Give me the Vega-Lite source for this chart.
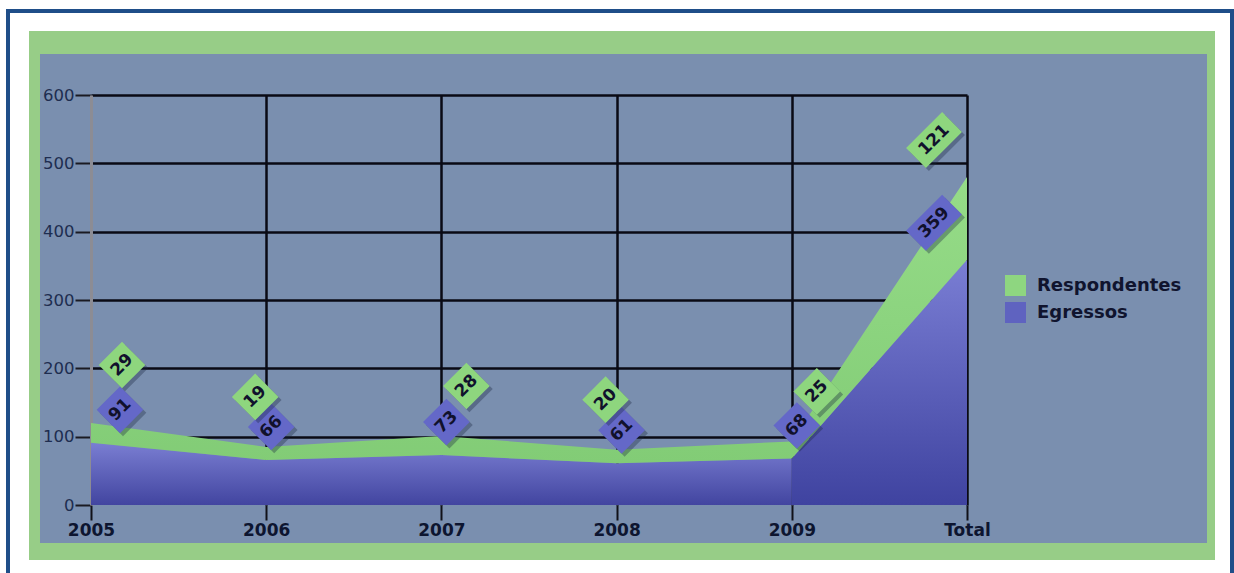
{
  "$schema": "https://vega.github.io/schema/vega-lite/v6.json",
  "width": 876,
  "height": 410,
  "autosize": {"type": "none"},
  "padding": {"left": 91, "top": 95, "right": 267, "bottom": 68},
  "background": "#7a8faf",
  "config": {"view": {"stroke": null}, "font": "DejaVu Sans"},
  "data": {
    "values": [
      {"i": 0, "ano": "2005", "serie": "Egressos", "valor": 91},
      {"i": 0, "ano": "2005", "serie": "Respondentes", "valor": 29},
      {"i": 1, "ano": "2006", "serie": "Egressos", "valor": 66},
      {"i": 1, "ano": "2006", "serie": "Respondentes", "valor": 19},
      {"i": 2, "ano": "2007", "serie": "Egressos", "valor": 73},
      {"i": 2, "ano": "2007", "serie": "Respondentes", "valor": 28},
      {"i": 3, "ano": "2008", "serie": "Egressos", "valor": 61},
      {"i": 3, "ano": "2008", "serie": "Respondentes", "valor": 20},
      {"i": 4, "ano": "2009", "serie": "Egressos", "valor": 68},
      {"i": 4, "ano": "2009", "serie": "Respondentes", "valor": 25},
      {"i": 5, "ano": "Total", "serie": "Egressos", "valor": 359},
      {"i": 5, "ano": "Total", "serie": "Respondentes", "valor": 121}
    ]
  },
  "transform": [
    {"stack": "valor", "groupby": ["i"], "sort": [{"field": "serie", "order": "ascending"}], "as": ["v0", "v1"]}
  ],
  "encoding": {
    "x": {
      "field": "i",
      "type": "quantitative",
      "title": null,
      "scale": {"domain": [0, 5], "nice": false, "zero": false},
      "axis": {
        "values": [0, 1, 2, 3, 4, 5],
        "labelExpr": "['2005','2006','2007','2008','2009','Total'][datum.value]",
        "labelFont": "DejaVu Sans",
        "labelFontWeight": "bold",
        "labelFontSize": 17,
        "labelColor": "#0d1530",
        "labelPadding": 2,
        "labelFlush": false,
        "labelOverlap": false,
        "tickColor": "#111118",
        "tickSize": 15,
        "tickWidth": 2,
        "domain": false,
        "grid": true,
        "gridColor": {"condition": {"test": "datum.value == 0", "value": "#8c8c94"}, "value": "#0a0a14"},
        "gridWidth": 2.5
      }
    }
  },
  "layer": [
    {
      "transform": [{"filter": "datum.serie == 'Egressos' && datum.i <= 4"}],
      "mark": {"type": "area", "color": {"gradient": "linear", "x1": 0, "y1": 0, "x2": 0, "y2": 1, "stops": [{"offset": 0, "color": "#7a7ed2"}, {"offset": 1, "color": "#4245a0"}]}},
      "encoding": {
        "y": {
          "field": "v1",
          "type": "quantitative",
          "title": null,
          "scale": {"domain": [0, 600], "nice": false},
          "axis": {
            "values": [0, 100, 200, 300, 400, 500, 600],
            "labelFont": "DejaVu Sans",
            "labelFontSize": 16.5,
            "labelColor": "#1e2d50",
            "labelPadding": 1,
            "tickColor": "#1a1a22",
            "tickSize": 16,
            "tickWidth": 2,
            "domain": true,
            "domainColor": "#8c8c94",
            "domainWidth": 3,
            "grid": true,
            "gridColor": {"condition": {"test": "datum.value == 0", "value": "transparent"}, "value": "#0a0a14"},
            "gridWidth": 2.5
          }
        },
        "y2": {"field": "v0"}
      }
    },
    {
      "transform": [{"filter": "datum.serie == 'Egressos' && datum.i >= 4"}],
      "mark": {"type": "area", "color": {"gradient": "linear", "x1": 0, "y1": 0, "x2": 0, "y2": 1, "stops": [{"offset": 0, "color": "#7a7ed4"}, {"offset": 1, "color": "#3f43a0"}]}},
      "encoding": {
        "y": {"field": "v1", "type": "quantitative", "title": null},
        "y2": {"field": "v0"}
      }
    },
    {
      "transform": [{"filter": "datum.serie == 'Respondentes'"}],
      "mark": {"type": "area", "color": {"gradient": "linear", "x1": 0, "y1": 0, "x2": 0, "y2": 1, "stops": [{"offset": 0, "color": "#96dc88"}, {"offset": 1, "color": "#82cc76"}]}},
      "encoding": {
        "y": {"field": "v1", "type": "quantitative", "title": null},
        "y2": {"field": "v0"}
      }
    },
    {
      "mark": {"type": "point", "shape": "square", "filled": true, "opacity": 0},
      "encoding": {
        "y": {"field": "v1", "type": "quantitative", "title": null},
        "color": {
          "field": "serie",
          "type": "nominal",
          "scale": {"domain": ["Respondentes", "Egressos"], "range": ["#8ed680", "#5f63c0"]},
          "legend": {
            "title": null,
            "orient": "none",
            "legendX": 914,
            "legendY": 180,
            "symbolType": "square",
            "symbolSize": 441,
            "symbolOpacity": 1,
            "symbolStrokeWidth": 0,
            "labelFont": "DejaVu Sans",
            "labelFontSize": 18,
            "labelFontWeight": "bold",
            "labelColor": "#10142e",
            "labelOffset": 11,
            "rowPadding": 6,
            "padding": 0,
            "labelLimit": 300
          }
        }
      }
    },
    {"transform": [{"filter": "datum.serie == 'Egressos' && datum.i == 0"}], "mark": {"type": "point", "filled": true, "angle": 315, "color": "#1a2440", "opacity": 0.35, "strokeWidth": 0, "xOffset": 32, "yOffset": -30}, "encoding": {"y": {"field": "v1", "type": "quantitative", "title": null}, "shape": {"value": "square"}, "size": {"value": 1089}}},
    {"transform": [{"filter": "datum.serie == 'Egressos' && datum.i == 0"}], "mark": {"type": "point", "filled": true, "angle": 315, "color": "#6468c8", "opacity": 1, "strokeWidth": 0, "xOffset": 29, "yOffset": -33}, "encoding": {"y": {"field": "v1", "type": "quantitative", "title": null}, "shape": {"value": "square"}, "size": {"value": 1089}}},
    {"transform": [{"filter": "datum.serie == 'Egressos' && datum.i == 0"}], "mark": {"type": "text", "angle": 315, "fontSize": 17, "fontWeight": "bold", "font": "DejaVu Sans", "color": "#11112c", "align": "center", "baseline": "middle", "xOffset": 29, "yOffset": -33}, "encoding": {"y": {"field": "v1", "type": "quantitative", "title": null}, "text": {"field": "valor", "type": "quantitative"}}},

    {"transform": [{"filter": "datum.serie == 'Egressos' && datum.i >= 1 && datum.i <= 4"}], "mark": {"type": "point", "filled": true, "angle": 315, "color": "#1a2440", "opacity": 0.35, "strokeWidth": 0, "xOffset": 8, "yOffset": -30}, "encoding": {"y": {"field": "v1", "type": "quantitative", "title": null}, "shape": {"value": "square"}, "size": {"value": 1089}}},
    {"transform": [{"filter": "datum.serie == 'Egressos' && datum.i >= 1 && datum.i <= 4"}], "mark": {"type": "point", "filled": true, "angle": 315, "color": "#6468c8", "opacity": 1, "strokeWidth": 0, "xOffset": 5, "yOffset": -33}, "encoding": {"y": {"field": "v1", "type": "quantitative", "title": null}, "shape": {"value": "square"}, "size": {"value": 1089}}},
    {"transform": [{"filter": "datum.serie == 'Egressos' && datum.i >= 1 && datum.i <= 4"}], "mark": {"type": "text", "angle": 315, "fontSize": 17, "fontWeight": "bold", "font": "DejaVu Sans", "color": "#11112c", "align": "center", "baseline": "middle", "xOffset": 5, "yOffset": -33}, "encoding": {"y": {"field": "v1", "type": "quantitative", "title": null}, "text": {"field": "valor", "type": "quantitative"}}},

    {"transform": [{"filter": "datum.i == 5"}], "mark": {"type": "point", "filled": true, "angle": 315, "color": "#1a2440", "opacity": 0.35, "strokeWidth": 0, "xOffset": -30, "yOffset": -34}, "encoding": {"y": {"field": "v1", "type": "quantitative", "title": null}, "shape": {"value": "M-1,-0.55L1,-0.55L1,0.55L-1,0.55Z"}, "size": {"value": 2601}}},
    {"transform": [{"filter": "datum.i == 5"}], "mark": {"type": "point", "filled": true, "angle": 315, "opacity": 1, "strokeWidth": 0, "xOffset": -33, "yOffset": -37}, "encoding": {"y": {"field": "v1", "type": "quantitative", "title": null}, "shape": {"value": "M-1,-0.55L1,-0.55L1,0.55L-1,0.55Z"}, "size": {"value": 2601}, "fill": {"condition": {"test": "datum.serie == 'Egressos'", "value": "#6468c8"}, "value": "#8ed67e"}}},
    {"transform": [{"filter": "datum.i == 5"}], "mark": {"type": "text", "angle": 315, "fontSize": 17, "fontWeight": "bold", "font": "DejaVu Sans", "color": "#11112c", "align": "center", "baseline": "middle", "xOffset": -33, "yOffset": -37}, "encoding": {"y": {"field": "v1", "type": "quantitative", "title": null}, "text": {"field": "valor", "type": "quantitative"}}},

    {"transform": [{"filter": "datum.serie == 'Respondentes' && datum.i == 0"}], "mark": {"type": "point", "filled": true, "angle": 315, "color": "#1a2440", "opacity": 0.35, "strokeWidth": 0, "xOffset": 34, "yOffset": -55}, "encoding": {"y": {"field": "v1", "type": "quantitative", "title": null}, "shape": {"value": "square"}, "size": {"value": 1089}}},
    {"transform": [{"filter": "datum.serie == 'Respondentes' && datum.i == 0"}], "mark": {"type": "point", "filled": true, "angle": 315, "color": "#8ed67e", "opacity": 1, "strokeWidth": 0, "xOffset": 31, "yOffset": -58}, "encoding": {"y": {"field": "v1", "type": "quantitative", "title": null}, "shape": {"value": "square"}, "size": {"value": 1089}}},
    {"transform": [{"filter": "datum.serie == 'Respondentes' && datum.i == 0"}], "mark": {"type": "text", "angle": 315, "fontSize": 17, "fontWeight": "bold", "font": "DejaVu Sans", "color": "#11112c", "align": "center", "baseline": "middle", "xOffset": 31, "yOffset": -58}, "encoding": {"y": {"field": "v1", "type": "quantitative", "title": null}, "text": {"field": "valor", "type": "quantitative"}}},

    {"transform": [{"filter": "datum.serie == 'Respondentes' && (datum.i == 1 || datum.i == 3)"}], "mark": {"type": "point", "filled": true, "angle": 315, "color": "#1a2440", "opacity": 0.35, "strokeWidth": 0, "xOffset": -8, "yOffset": -47}, "encoding": {"y": {"field": "v1", "type": "quantitative", "title": null}, "shape": {"value": "square"}, "size": {"value": 1089}}},
    {"transform": [{"filter": "datum.serie == 'Respondentes' && (datum.i == 1 || datum.i == 3)"}], "mark": {"type": "point", "filled": true, "angle": 315, "color": "#8ed67e", "opacity": 1, "strokeWidth": 0, "xOffset": -11, "yOffset": -50}, "encoding": {"y": {"field": "v1", "type": "quantitative", "title": null}, "shape": {"value": "square"}, "size": {"value": 1089}}},
    {"transform": [{"filter": "datum.serie == 'Respondentes' && (datum.i == 1 || datum.i == 3)"}], "mark": {"type": "text", "angle": 315, "fontSize": 17, "fontWeight": "bold", "font": "DejaVu Sans", "color": "#11112c", "align": "center", "baseline": "middle", "xOffset": -11, "yOffset": -50}, "encoding": {"y": {"field": "v1", "type": "quantitative", "title": null}, "text": {"field": "valor", "type": "quantitative"}}},

    {"transform": [{"filter": "datum.serie == 'Respondentes' && (datum.i == 2 || datum.i == 4)"}], "mark": {"type": "point", "filled": true, "angle": 315, "color": "#1a2440", "opacity": 0.35, "strokeWidth": 0, "xOffset": 28, "yOffset": -47}, "encoding": {"y": {"field": "v1", "type": "quantitative", "title": null}, "shape": {"value": "square"}, "size": {"value": 1089}}},
    {"transform": [{"filter": "datum.serie == 'Respondentes' && (datum.i == 2 || datum.i == 4)"}], "mark": {"type": "point", "filled": true, "angle": 315, "color": "#8ed67e", "opacity": 1, "strokeWidth": 0, "xOffset": 25, "yOffset": -50}, "encoding": {"y": {"field": "v1", "type": "quantitative", "title": null}, "shape": {"value": "square"}, "size": {"value": 1089}}},
    {"transform": [{"filter": "datum.serie == 'Respondentes' && (datum.i == 2 || datum.i == 4)"}], "mark": {"type": "text", "angle": 315, "fontSize": 17, "fontWeight": "bold", "font": "DejaVu Sans", "color": "#11112c", "align": "center", "baseline": "middle", "xOffset": 25, "yOffset": -50}, "encoding": {"y": {"field": "v1", "type": "quantitative", "title": null}, "text": {"field": "valor", "type": "quantitative"}}},

    {
      "mark": {"type": "rect", "filled": false, "color": "#ffffff", "strokeWidth": 64},
      "encoding": {
        "x": {"datum": -0.5365, "type": "quantitative"}, "x2": {"datum": 6.5982},
        "y": {"datum": 740.49, "type": "quantitative"}, "y2": {"datum": -127.32}
      }
    },
    {
      "mark": {"type": "rect", "filled": false, "color": "#1f4e89", "strokeWidth": 4},
      "encoding": {
        "x": {"datum": -0.47374, "type": "quantitative"}, "x2": {"datum": 6.51256},
        "y": {"datum": 722.93, "type": "quantitative"}, "y2": {"datum": -139.02}
      }
    },
    {
      "mark": {"type": "rect", "color": "#97cd87"},
      "encoding": {
        "x": {"datum": -0.3539, "type": "quantitative"}, "x2": {"datum": -0.2911},
        "y": {"datum": 693.66, "type": "quantitative"}, "y2": {"datum": -80.49}
      }
    },
    {
      "mark": {"type": "rect", "color": "#97cd87"},
      "encoding": {
        "x": {"datum": 6.3699, "type": "quantitative"}, "x2": {"datum": 6.4155},
        "y": {"datum": 693.66, "type": "quantitative"}, "y2": {"datum": -80.49}
      }
    },
    {
      "mark": {"type": "rect", "color": "#97cd87"},
      "encoding": {
        "x": {"datum": -0.3539, "type": "quantitative"}, "x2": {"datum": 6.4155},
        "y": {"datum": 693.66, "type": "quantitative"}, "y2": {"datum": 660.0}
      }
    },
    {
      "mark": {"type": "rect", "color": "#97cd87"},
      "encoding": {
        "x": {"datum": -0.3539, "type": "quantitative"}, "x2": {"datum": 6.4155},
        "y": {"datum": -55.61, "type": "quantitative"}, "y2": {"datum": -80.49}
      }
    }
  ]
}
